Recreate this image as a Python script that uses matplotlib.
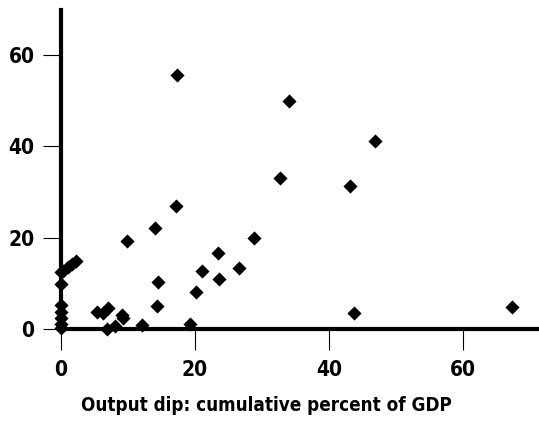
import matplotlib
matplotlib.use("Agg")
import matplotlib.pyplot as plt

# output dip (cumulative % of GDP) vs second measure
dip = [17.3, 34.0, 46.9, 32.7, 43.1, 28.8, 43.7, 67.3, 17.2,
       14.0, 9.8, 23.4, 21.0, 26.6, 14.5, 23.6, 20.1, 14.3,
       19.3, 12.1, 9.3, 9.1, 7.0, 6.3, 5.4, 6.9, 8.1,
       0.0, 0.0, 0.0, 0.0, 0.0, 0.0, 0.0, 0.3, 1.0, 1.6, 2.2]
other = [55.6, 49.9, 41.1, 33.0, 31.3, 19.9, 3.5, 4.8, 26.9,
         22.1, 19.3, 16.6, 12.7, 13.4, 10.3, 10.9, 8.0, 5.1,
         1.2, 0.9, 2.5, 3.0, 4.6, 3.6, 3.8, 0.1, 0.6,
         12.4, 9.8, 5.2, 3.7, 2.4, 1.2, 0.2, 12.8, 13.6, 14.3, 14.9]

xticks = [0, 20, 40, 60]
yticks = [0, 20, 40, 60]

fnt = dict(family="DejaVu Sans", fontstretch="condensed", fontweight="bold")

fig = plt.figure(figsize=(5.39, 4.21), dpi=100)
ax = fig.add_axes([0.113, 0.2185, 0.887, 0.7575])

ax.scatter(dip, other, marker="D", s=52, color="black", linewidths=0, zorder=3, clip_on=False)

ax.set_xlim(0, 71.3)
ax.set_ylim(0, 69.8)
ax.set_xticks(xticks)
ax.set_yticks(yticks)
ax.set_xticklabels([str(t) for t in xticks], fontsize=15, **fnt)
ax.set_yticklabels([str(t) for t in yticks], fontsize=15, **fnt)
ax.tick_params(axis="x", length=15, width=0.8, pad=7)
ax.tick_params(axis="y", length=13, width=0.8, pad=6)

for s in ["top", "right"]:
    ax.spines[s].set_visible(False)
ax.spines["left"].set_linewidth(3)
ax.spines["bottom"].set_linewidth(3)

fig.text(0.495, 0.038, "Output dip: cumulative percent of GDP", fontsize=13.5,
         ha="center", va="center", **fnt)

fig.savefig("out.png", dpi=100)
